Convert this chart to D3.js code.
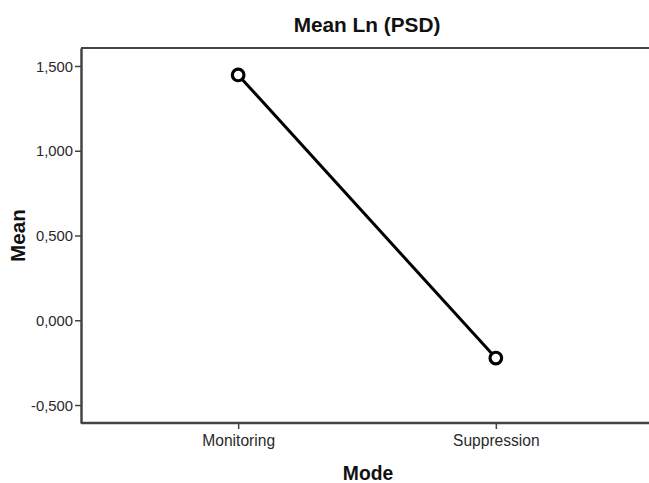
<!DOCTYPE html>
<html>
<head>
<meta charset="utf-8">
<script src="https://cdn.jsdelivr.net/npm/d3@7"></script>
<style>
  body { margin: 0; background: #fff; }
  svg { display: block; font-family: "Liberation Sans", Arial, sans-serif; }
</style>
</head>
<body>
<svg id="chart" width="649" height="483"></svg>
<script>
// data
var modes = ["Monitoring", "Suppression"];
var means = [1.447, -0.223];
var yTicks = [-0.5, 0, 0.5, 1.0, 1.5];

var width = 649, height = 483;
var margin = { top: 48, right: -4, bottom: 60, left: 81 };

var svg = d3.select("#chart");

var x = d3.scalePoint()
    .domain(modes)
    .range([margin.left, width - margin.right])
    .padding(0.61);

var y = d3.scaleLinear()
    .domain([-0.606, 1.606])
    .range([height - margin.bottom, margin.top]);

// SPSS style: comma decimal, plain hyphen for minus
var fmt = function(d) {
  return d3.format(".3f")(d).replace(".", ",").replace("\u2212", "-");
};

// frame: top line and axes
svg.append("line")
    .attr("x1", margin.left).attr("x2", width)
    .attr("y1", margin.top).attr("y2", margin.top)
    .attr("stroke", "#444").attr("stroke-width", 2);

var yAxis = svg.append("g")
    .attr("transform", "translate(" + margin.left + ",0)")
    .call(d3.axisLeft(y).tickValues(yTicks).tickFormat(fmt).tickSize(6).tickSizeOuter(0));

var xAxis = svg.append("g")
    .attr("transform", "translate(0," + (height - margin.bottom) + ")")
    .call(d3.axisBottom(x).tickSize(6).tickSizeOuter(0));

[yAxis, xAxis].forEach(function(g) {
  g.select(".domain").attr("stroke", "#444").attr("stroke-width", 2.5);
  g.selectAll(".tick line").attr("stroke", "#444").attr("stroke-width", 1.5);
  g.selectAll(".tick text")
      .attr("fill", "#2a2a2a")
      .style("font-family", "'Liberation Sans', Arial, sans-serif");
});
xAxis.select(".domain").attr("d", "M" + margin.left + ",0H" + width);
yAxis.selectAll(".tick text").attr("x", -8).attr("dy", "0.35em").style("font-size", "14.8px");
xAxis.selectAll(".tick text").attr("y", 12).attr("dy", "0.71em").style("font-size", "15.6px");

// mean line and markers
var pts = modes.map(function(m, i) { return { mode: m, mean: means[i] }; });

svg.append("path")
    .datum(pts)
    .attr("fill", "none")
    .attr("stroke", "#000")
    .attr("stroke-width", 3)
    .attr("d", d3.line()
        .x(function(d) { return x(d.mode); })
        .y(function(d) { return y(d.mean); }));

svg.append("g").selectAll("circle")
    .data(pts)
  .enter().append("circle")
    .attr("cx", function(d) { return x(d.mode); })
    .attr("cy", function(d) { return y(d.mean); })
    .attr("r", 5.8)
    .attr("fill", "#fff")
    .attr("stroke", "#000")
    .attr("stroke-width", 3.2);

// titles
svg.append("text")
    .attr("x", 367).attr("y", 32)
    .attr("text-anchor", "middle")
    .style("font-size", "20.8px").style("font-weight", "bold")
    .attr("fill", "#111")
    .text("Mean Ln (PSD)");

svg.append("text")
    .attr("x", 368).attr("y", 480)
    .attr("text-anchor", "middle")
    .style("font-size", "19.3px").style("font-weight", "bold")
    .attr("fill", "#111")
    .text("Mode");

svg.append("text")
    .attr("transform", "translate(25," + ((margin.top + height - margin.bottom) / 2) + ") rotate(-90)")
    .attr("text-anchor", "middle")
    .style("font-size", "20.7px").style("font-weight", "bold")
    .attr("fill", "#111")
    .text("Mean");
</script>
</body>
</html>
